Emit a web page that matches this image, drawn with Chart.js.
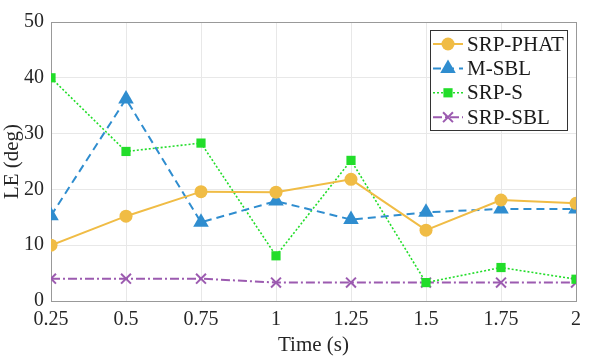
<!DOCTYPE html>
<html><head><meta charset="utf-8">
<script src="https://cdn.jsdelivr.net/npm/chart.js@4/dist/chart.umd.min.js"></script>
<style>html,body{margin:0;padding:0;background:#fff}#wrap{width:589px;height:358px}</style>
</head><body><div id="wrap"><canvas id="c" width="589" height="358"></canvas></div>
<script>
const times = [0.25, 0.5, 0.75, 1, 1.25, 1.5, 1.75, 2];
const xTickLabels = ['0.25','0.5','0.75','1','1.25','1.5','1.75','2'];
const yTicks = [0, 10, 20, 30, 40, 50];
const seriesNames = ['SRP-PHAT', 'M-SBL', 'SRP-S', 'SRP-SBL'];
const srpPhat = [10.0, 15.2, 19.6, 19.5, 21.8, 12.7, 18.1, 17.5];
const mSbl    = [15.3, 36.2, 14.1, 17.9, 14.6, 15.9, 16.5, 16.5];
const srpS    = [40.0, 26.8, 28.3, 8.1, 25.2, 3.3, 6.0, 3.9];
const srpSbl  = [4.0, 4.0, 4.0, 3.3, 3.3, 3.3, 3.3, 3.3];

const styles = [
  {color:'#F0BC45', dash:[], width:2, point:'circle', r:6.5, fill:true},
  {color:'#2F8DCF', dash:[8,5], width:2, point:'triangle', r:9, fill:true},
  {color:'#22DD2A', dash:[2,2], width:1.6, point:'rect', r:6.5, fill:true},
  {color:'#9C5BB0', dash:[9,3,2,3], width:2, point:'crossRot', r:7, fill:false}
];
const values = [srpPhat, mSbl, srpS, srpSbl];

const datasets = values.map((vals, i) => ({
  label: seriesNames[i],
  data: times.map((t, j) => ({x: t, y: vals[j]})),
  borderColor: styles[i].color,
  backgroundColor: styles[i].color,
  borderDash: styles[i].dash,
  borderWidth: styles[i].width,
  pointStyle: styles[i].point,
  pointRadius: styles[i].r,
  pointHoverRadius: styles[i].r,
  pointBorderWidth: styles[i].fill ? 0 : 2,
  pointBorderColor: styles[i].color,
  pointBackgroundColor: styles[i].color,
  tension: 0,
  fill: false
}));

const FONT = "'Liberation Serif', 'Times New Roman', serif";

const legendPlugin = {
  id: 'matLegend',
  afterDatasetsDraw(chart) {
    const ctx = chart.ctx;
    const bx = 430, by = 30, bw = 137, bh = 100;
    ctx.save();
    ctx.fillStyle = '#fff';
    ctx.fillRect(bx, by, bw, bh);
    ctx.strokeStyle = '#333';
    ctx.lineWidth = 1;
    ctx.strokeRect(bx + 0.5, by + 0.5, bw, bh);
    chart.data.datasets.forEach((ds, i) => {
      const y = by + 14 + i * 24.4;
      ctx.strokeStyle = ds.borderColor;
      ctx.lineWidth = ds.borderWidth;
      ctx.setLineDash(ds.borderDash);
      ctx.beginPath();
      ctx.moveTo(bx + 3, y);
      ctx.lineTo(bx + 33, y);
      ctx.stroke();
      ctx.setLineDash([]);
      ctx.fillStyle = ds.pointBackgroundColor;
      ctx.strokeStyle = ds.pointBorderColor;
      ctx.lineWidth = ds.pointBorderWidth;
      Chart.helpers.drawPoint(ctx, {pointStyle: ds.pointStyle, radius: ds.pointRadius, rotation: 0, borderWidth: ds.pointBorderWidth}, bx + 18, y);
      ctx.fillStyle = '#1a1a1a';
      ctx.font = '21px ' + FONT;
      ctx.textBaseline = 'middle';
      ctx.fillText(ds.label, bx + 37, y + 1);
    });
    ctx.restore();
  }
};

new Chart(document.getElementById('c'), {
  type: 'line',
  data: {datasets},
  plugins: [legendPlugin],
  options: {
    responsive: false,
    animation: false,
    devicePixelRatio: 1,
    layout: {padding: {top: 22, right: 13, left: 0, bottom: 0}},
    plugins: {legend: {display: false}, tooltip: {enabled: false}},
    scales: {
      x: {
        type: 'linear', min: 0.25, max: 2,
        afterBuildTicks(scale) { scale.ticks = times.map(v => ({value: v})); },
        afterFit(scale) { scale.height = 57; },
        ticks: {
          autoSkip: false, maxRotation: 0, padding: 7,
          color: '#262626', font: {family: FONT, size: 20},
          callback: (v) => { const k = times.indexOf(v); return k >= 0 ? xTickLabels[k] : ''; }
        },
        grid: {color: '#e8e8e8', lineWidth: 1, tickLength: 0, drawTicks: false},
        border: {display: true, color: '#999', width: 1},
        title: {display: true, text: 'Time (s)', color: '#262626', font: {family: FONT, size: 21}, padding: {top: 0, bottom: 0}}
      },
      y: {
        min: 0, max: 50,
        afterBuildTicks(scale) { scale.ticks = yTicks.map(v => ({value: v})); },
        afterFit(scale) { scale.width = 51; },
        ticks: {color: '#262626', font: {family: FONT, size: 20}, padding: 7},
        grid: {color: '#e8e8e8', lineWidth: 1, drawTicks: false},
        border: {display: true, color: '#999', width: 1},
        title: {display: true, text: 'LE (deg)', color: '#262626', font: {family: FONT, size: 21}, padding: {top: 0, bottom: 0}}
      },
      x2: {
        type: 'linear', position: 'top', min: 0.25, max: 2,
        afterFit(scale) { scale.height = 0; },
        ticks: {display: false}, grid: {display: false},
        border: {display: true, color: '#999', width: 1}
      },
      y2: {
        position: 'right', min: 0, max: 50,
        afterFit(scale) { scale.width = 0; },
        ticks: {display: false}, grid: {display: false},
        border: {display: true, color: '#999', width: 1}
      }
    }
  }
});
</script>
</body></html>
